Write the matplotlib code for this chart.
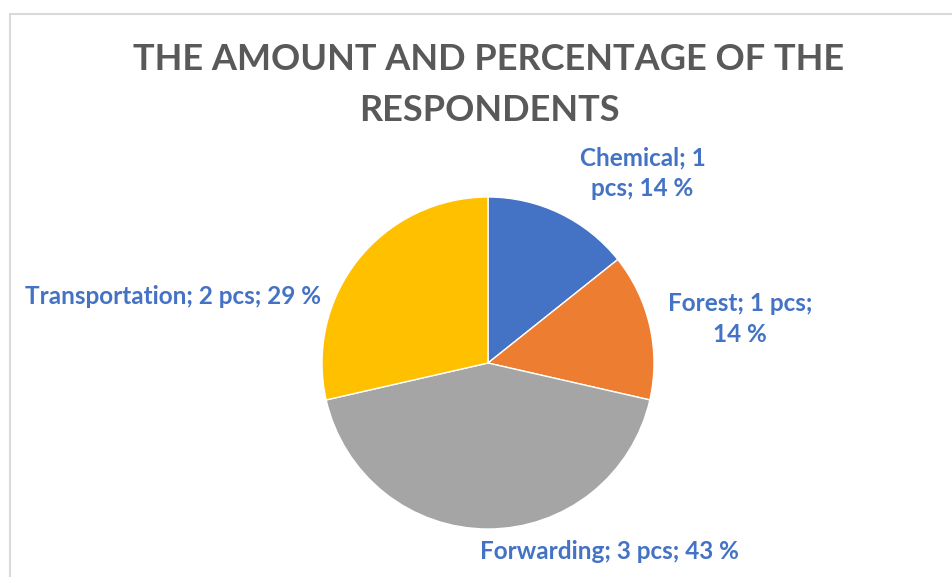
import matplotlib.pyplot as plt
from matplotlib.patches import Rectangle

# data
sectors = ["Chemical", "Forest", "Forwarding", "Transportation"]
counts = [1, 1, 3, 2]
colors = ["#4472C4", "#ED7D31", "#A5A5A5", "#FFC000"]
title = "THE AMOUNT AND PERCENTAGE OF THE\nRESPONDENTS"

# label layout (pie radius = 1, centre = 0,0)
label_pos = [(0.93, 1.145), (1.52, 0.265), (0.73, -1.133), (-1.9, 0.40)]
label_wrap = [2, 3, None, None]  # break line after n words

W, H = 952, 577
cx, cy, r = 488, 363, 166

fig = plt.figure(figsize=(W / 100, H / 100), dpi=100)
ax = fig.add_axes([0, 0, 1, 1])
ax.axis("off")

ax.pie(counts, colors=colors, startangle=90, counterclock=False, radius=1,
       wedgeprops=dict(edgecolor="white", linewidth=1))
ax.set_xlim(-cx / r, (W - cx) / r)
ax.set_ylim((cy - H) / r, cy / r)
ax.set_aspect("auto")

total = sum(counts)
for name, n, pos, wrap in zip(sectors, counts, label_pos, label_wrap):
    pct = round(100 * n / total)
    words = f"{name}; {n} pcs; {pct} %".split(" ")
    if wrap:
        text = " ".join(words[:wrap]) + "\n" + " ".join(words[wrap:])
    else:
        text = " ".join(words)
    ax.text(pos[0], pos[1], text, ha="center", va="center", fontsize=17.5,
            fontweight="bold", color="#4472C4", family="Lato", linespacing=1.4)

fig.text(489 / W, 1 - 85 / H, title, ha="center", va="center", fontsize=26,
         fontweight="bold", color="#595959", family="Lato", linespacing=1.65)

fig.patches.append(Rectangle((9.5 / W, -0.1), 1.2, 1 - 13.5 / H + 0.1,
                             transform=fig.transFigure, fill=False,
                             edgecolor="#D9D9D9", linewidth=1.5))

fig.savefig("out.png", dpi=100)
